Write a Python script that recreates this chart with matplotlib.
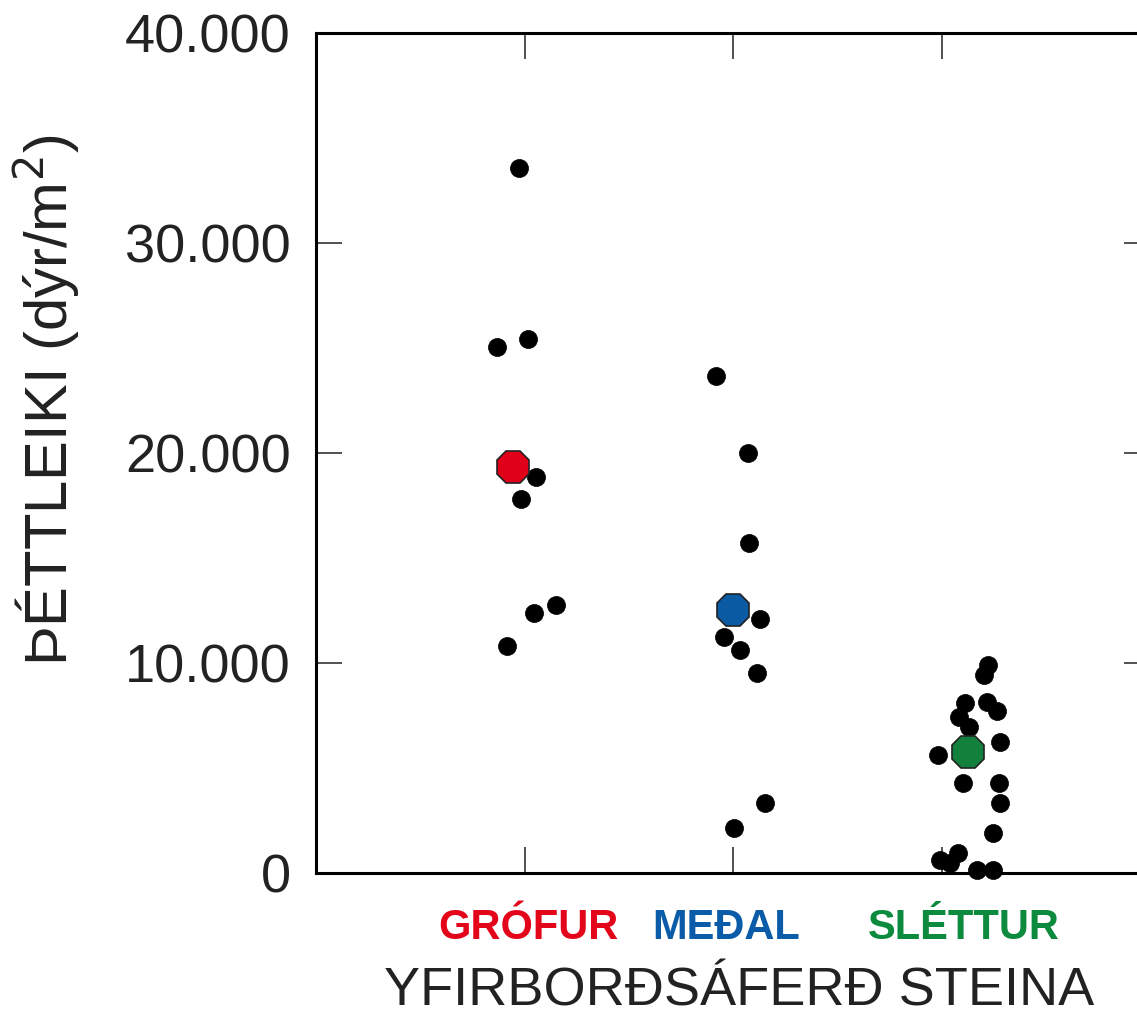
import matplotlib
matplotlib.use('Agg')
import matplotlib.pyplot as plt
import matplotlib.transforms as mtransforms
from matplotlib.ticker import FuncFormatter
import numpy as np

plt.rcParams['font.family'] = ['Liberation Sans', 'DejaVu Sans']

# ---- data ---------------------------------------------------------------------
CATEGORIES = ['GRÓFUR', 'MEÐAL', 'SLÉTTUR']
CAT_COLORS = ['#e3061b', '#0a5ca8', '#0c8a3e']
MEAN_COLORS = ['#e1001a', '#0a5aa4', '#13803c']

# horizontal jitter of each point around its category (in category units)
grofur_jit = [-0.026, -0.132, 0.017, 0.055, -0.017, 0.151, 0.046, -0.084]
grofur_val = [33570, 25050, 25430, 18860, 17810, 12760, 12380, 10810]

medal_jit = [-0.082, 0.072, 0.077, 0.129, -0.043, 0.034, 0.115, 0.153, 0.005]
medal_val = [23670, 20000, 15710, 12100, 11240, 10620, 9520, 3330, 2140]

slettur_jit = [0.223, 0.204, 0.113, 0.218, 0.266, 0.084, 0.132, -0.017, 0.281,
               0.103, 0.276, 0.281, 0.247, -0.007, 0.079, 0.041, 0.170, 0.247]
slettur_val = [9900, 9430, 8100, 8140, 7710, 7430, 6950, 5620, 6240,
               4290, 4290, 3330, 1900, 620, 950, 480, 140, 140]

mean_jit = [-0.055, 0.0, 0.127]
mean_val = [19330, 12520, 5760]

JITS = [grofur_jit, medal_jit, slettur_jit]
VALS = [grofur_val, medal_val, slettur_val]

Y_TICKS = [0, 10000, 20000, 30000, 40000]

# ---- figure ---------------------------------------------------------------------
W, H = 1137, 1015
fig = plt.figure(figsize=(W / 100, H / 100), dpi=100)
ax = fig.add_axes([316 / W, 142 / H, 834 / W, 840 / H])

for i, (jit, vals) in enumerate(zip(JITS, VALS)):
    x = (i + 1) + np.asarray(jit)
    ax.plot(x, vals, 'o', color='black', ms=13, mec='black', mew=0.5,
            clip_on=False, zorder=3, ls='none')

for i in range(3):
    ax.plot([i + 1 + mean_jit[i]], [mean_val[i]], '8', color=MEAN_COLORS[i],
            ms=25, mec='#222222', mew=1.2, zorder=4, clip_on=False)

ax.set_xlim(0, 4)
ax.set_ylim(0, 40000)
ax.set_yticks(Y_TICKS)
ax.yaxis.set_major_formatter(
    FuncFormatter(lambda v, _: f"{int(v):,}".replace(',', '.')))
ax.set_xticks([1, 2, 3])
ax.set_xticklabels([])

# category names, drawn slightly off-centre as in the original layout
trans = mtransforms.blended_transform_factory(ax.transData, ax.transAxes)
for i, (name, col, dx) in enumerate(zip(CATEGORIES, CAT_COLORS,
                                        [0.02, -0.034, 0.105])):
    ax.text(i + 1 + dx, -0.0655, name, transform=trans, ha='center',
            va='center', fontsize=30, fontweight='bold', color=col)

ax.tick_params(axis='both', direction='in', length=19, width=1.2,
               top=True, right=True, color='#333333')
ax.tick_params(axis='y', labelsize=39, pad=18, labelcolor='#222222')
for sp in ax.spines.values():
    sp.set_linewidth(2.2)

fig.text(47 / W, 1 - 400 / H, 'ÞÉTTLEIKI (dýr/m$^2$)', rotation=90,
         ha='center', va='center', fontsize=43, color='#222222')
fig.text(739 / W, 1 - 1006 / H, 'YFIRBORÐSÁFERÐ STEINA', ha='center',
         va='baseline', fontsize=39, color='#222222')

fig.savefig('out.png', dpi=100)
